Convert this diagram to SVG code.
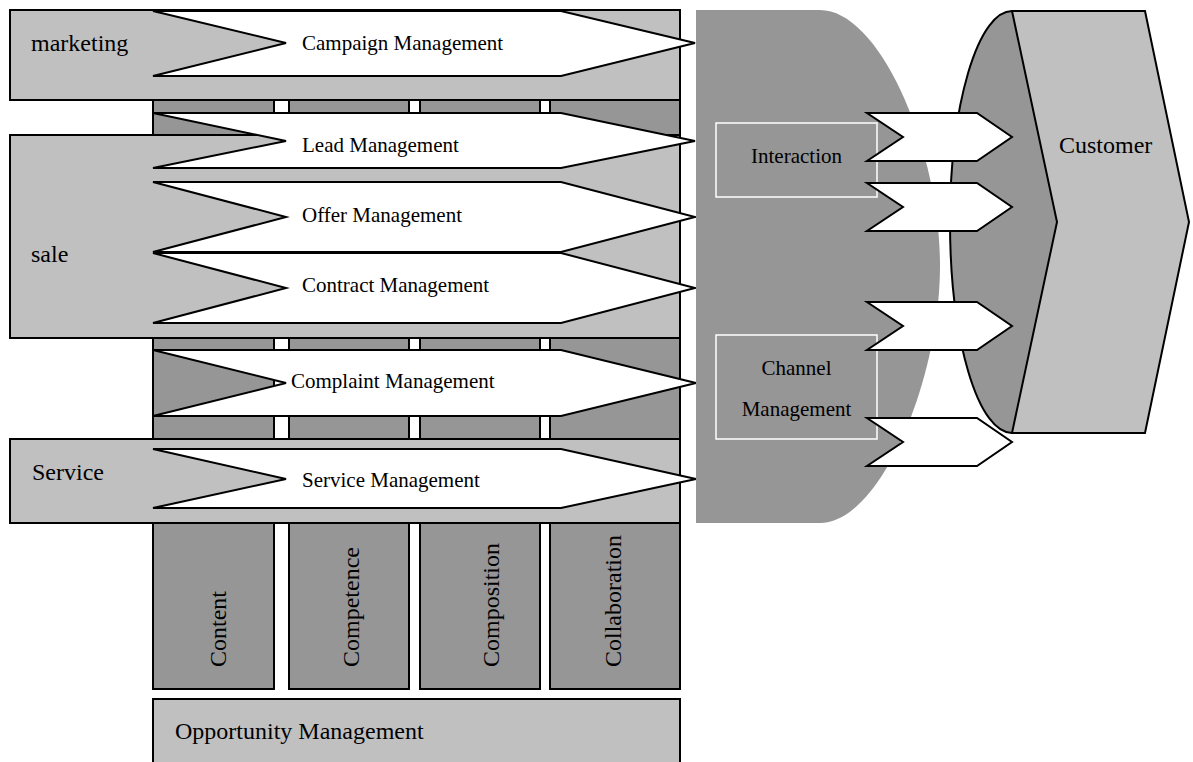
<svg xmlns="http://www.w3.org/2000/svg" width="1193" height="762" viewBox="0 0 1193 762">
<style>
.col{fill:#969696;stroke:#000;stroke-width:2}
.band{fill:#c0c0c0;stroke:#000;stroke-width:2}
.arr{fill:#fff;stroke:#000;stroke-width:2;stroke-linejoin:miter}
.box{fill:#969696;stroke:#fff;stroke-width:1.5}
text{font-family:"Liberation Serif","Times New Roman",serif;fill:#000}
.lg{font-size:24px}
.sm{font-size:21px}
</style>
<rect width="1193" height="762" fill="#fff"/>
<g id="columns">
<g id="col-content"><rect class="col" x="153" y="100" width="121" height="589"/><text class="lg" transform="translate(226,667) rotate(-90)">Content</text></g>
<g id="col-competence"><rect class="col" x="289" y="100" width="120" height="589"/><text class="lg" transform="translate(359,667) rotate(-90)">Competence</text></g>
<g id="col-composition"><rect class="col" x="420" y="100" width="120" height="589"/><text class="lg" transform="translate(499,667) rotate(-90)">Composition</text></g>
<g id="col-collaboration"><rect class="col" x="550" y="100" width="130" height="589"/><text class="lg" transform="translate(621,667) rotate(-90)">Collaboration</text></g>
</g>
<g id="marketing"><rect class="band" x="10" y="10" width="670" height="90"/><text class="lg" x="31" y="51">marketing</text></g>
<g id="sale"><rect class="band" x="10" y="135" width="670" height="203"/><text class="lg" x="31" y="262">sale</text></g>
<g id="service"><rect class="band" x="10" y="439" width="670" height="84"/><text class="lg" x="32" y="480">Service</text></g>
<g id="opportunity"><rect class="band" x="153" y="699" width="527" height="75"/><text class="lg" x="175" y="739">Opportunity Management</text></g>
<g id="campaign"><polygon class="arr" points="153,11 561,11 695,43 561,76 153,76 286,43"/><text class="sm" x="302" y="50">Campaign Management</text></g>
<g id="lead"><polygon class="arr" points="153,113 561,113 695,141 561,168 153,168 286,141"/><text class="sm" x="302" y="152">Lead Management</text></g>
<g id="offer"><polygon class="arr" points="153,182 561,182 695,217 561,252 153,252 286,217"/><text class="sm" x="302" y="222">Offer Management</text></g>
<g id="contract"><polygon class="arr" points="153,253 561,253 695,288 561,323 153,323 286,288"/><text class="sm" x="302" y="292">Contract Management</text></g>
<g id="complaint"><polygon class="arr" points="153,350 561,350 696,383 561,416 153,416 286,383"/><text class="sm" x="291" y="388">Complaint Management</text></g>
<g id="service-mgmt"><polygon class="arr" points="153,449 561,449 696,479 561,508 153,508 286,479"/><text class="sm" x="302" y="487">Service Management</text></g>
<g id="channel-area">
<path d="M696,10 H820 C880,10 940,150 940,266 C940,380 880,523 820,523 H696 Z" fill="#969696"/>
</g>
<g id="interaction"><rect class="box" x="716" y="123" width="161" height="74"/><text class="sm" x="796.5" y="163" text-anchor="middle">Interaction</text></g>
<g id="channel-mgmt"><rect class="box" x="716" y="335" width="161" height="104"/><text class="sm" x="796.5" y="375" text-anchor="middle">Channel</text><text class="sm" x="796.5" y="416" text-anchor="middle">Management</text></g>
<g id="customer">
<ellipse cx="1012" cy="222" rx="62" ry="211" fill="#969696" stroke="#000" stroke-width="2"/>
<polygon points="1012,11 1145,11 1189,222 1145,433 1012,433 1057,222" fill="#c0c0c0" stroke="#000" stroke-width="2"/>
<text class="lg" x="1059" y="153">Customer</text>
</g>
<g id="connectors">
<polygon class="arr" points="867,113 977,113 1012,137 977,161 867,161 903,137"/>
<polygon class="arr" points="867,183 977,183 1012,207 977,231 867,231 903,207"/>
<polygon class="arr" points="867,302 977,302 1012,326 977,350 867,350 903,326"/>
<polygon class="arr" points="867,418 977,418 1012,442 977,466 867,466 903,442"/>
</g>
</svg>
